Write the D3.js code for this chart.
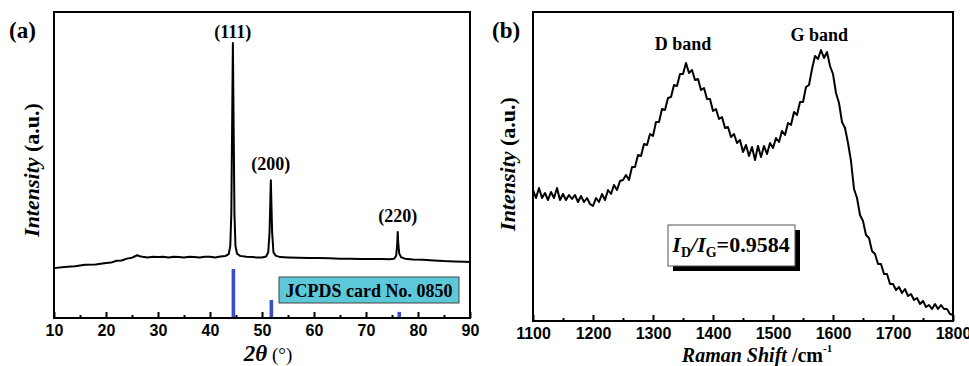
<!DOCTYPE html>
<html><head><meta charset="utf-8">
<script src="https://cdn.jsdelivr.net/npm/d3@7"></script>
<style>
body{margin:0;background:#fff;}
svg{display:block;}
.tk text{font-family:"Liberation Sans",Arial,sans-serif;font-weight:bold;font-size:16px;fill:#000;}
.tk path{display:none;}
.tk line{stroke:#000;stroke-width:2px;}
.ser{font-family:"Liberation Serif","Times New Roman",serif;font-weight:bold;fill:#000;}
</style></head>
<body>
<svg id="c" width="969" height="366"></svg>
<script>
// ---------- Panel (a): XRD ----------
const xrdX = [10,12,14,16,18,20,21,22,23,24,25,25.5,26,26.5,27,28,29,30,31,32,33,34,35,36,37,38,39,40,41,42,43,43.6,43.9,44.1,44.25,44.4,44.55,44.7,44.9,45.2,45.8,47,48,49,50,50.8,51.2,51.45,51.6,51.7,51.8,51.95,52.2,52.6,53.5,55,57,59,61,63,65,67,69,71,73,74.5,75.4,75.8,76.0,76.1,76.2,76.4,76.8,77.5,79,81,83,85,87,89,90];
const xrdY = [16.3,16.7,16.9,17.4,17.5,18.0,18.1,18.7,18.8,19.4,19.7,20.1,20.5,20.2,20.0,19.8,20.0,19.9,20.0,19.8,20.0,19.9,19.8,20.0,19.9,19.8,20.0,20.0,19.8,20.1,20.3,20.9,23.5,34,62,89.9,62,34,23.5,21.0,20.3,20.0,19.9,19.8,19.8,20.1,21.5,28,38,45,38,28,21.5,20.4,19.9,19.8,19.7,19.6,19.6,19.5,19.4,19.4,19.3,19.3,19.3,19.2,19.4,20.3,24.0,28.1,24.5,21.0,19.8,19.4,19.1,19.0,18.8,18.6,18.5,18.4,18.3];
const refPos = [44.5, 51.8, 76.4];
const refH = [16, 5.9, 2.0];
const xrdLabels = ["(111)", "(200)", "(220)"];
const xrdLabelPos = [44.4, 51.7, 76.1];
const xrdLabelY = [91.5, 48.5, 31.5];
const xrdTicks = [10,20,30,40,50,60,70,80,90];
const xrdMinor = [15,25,35,45,55,65,75,85];

// ---------- Panel (b): Raman ----------
const ramanX = d3.range(1100, 1801, 5);
const ramanY = [131,123,133,123,128,121,129,123,133,121,127,121,126,122,126,119,125,119,123,117,
115,123,119,127,121,131,127,136,131,140,141,146,141,154,154,166,165,177,176,187,
185,199,199,212,211,223,224,236,235,247,247,258,248,251,241,242,231,233,222,222,
210,212,202,204,193,194,184,187,178,181,169,176,165,174,161,175,164,175,167,178,
173,183,179,190,186,198,196,209,206,219,219,234,236,252,265,262,271,263,269,255,
247,228,218,199,193,178,160,132,123,106,100,86,83,70,67,57,57,47,47,37,
37,31,34,28,32,25,27,21,23,17,20,14,16,12,17,12,16,12,12,7,6];
const ramanTicks = [1100,1200,1300,1400,1500,1600,1700,1800];
const ramanMinor = [1150,1250,1350,1450,1550,1650,1750];
const bandLabels = ["D band", "G band"];
const bandPos = [1350, 1577];
const bandY = [271, 280];

const svg = d3.select("#c");
const SERIF = "'Liberation Serif','Times New Roman',serif";

function panel(o){
  const g = svg.append("g");
  const x = d3.scaleLinear().domain(o.xd).range([o.L, o.R]);
  const y = d3.scaleLinear().domain(o.yd).range([o.B, o.T]);
  const ax = d3.axisBottom(x).tickValues(o.ticks).tickSize(-6).tickPadding(7).tickFormat(d3.format("d"));
  g.append("g").attr("class","tk").attr("transform",`translate(0,${o.B})`).call(ax);
  const mx = d3.axisBottom(x).tickValues(o.minor).tickSize(-3).tickFormat("");
  g.append("g").attr("class","tk").attr("transform",`translate(0,${o.B})`).call(mx);
  return {g,x,y};
}
function stxt(g){ return g.append("text").attr("class","ser").attr("font-family",SERIF).attr("font-weight","bold"); }

// Panel a
const A = panel({xd:[10,90], yd:[0,100], L:54, R:470, T:12, B:318, ticks:xrdTicks, minor:xrdMinor});
A.g.selectAll("rect.ref").data(refPos).join("rect")
  .attr("x", d=>A.x(d)-1.8).attr("width",3.6)
  .attr("y",(d,i)=>A.y(refH[i])).attr("height",(d,i)=>A.y(0)-A.y(refH[i]))
  .attr("fill","#3a4fc0");
A.g.append("path").datum(d3.zip(xrdX,xrdY))
  .attr("d", d3.line().x(d=>A.x(d[0])).y(d=>A.y(d[1])))
  .attr("fill","none").attr("stroke","#000").attr("stroke-width",2).attr("stroke-linejoin","round");
A.g.selectAll("text.pk").data(xrdLabels).join("text").attr("class","ser").attr("font-family",SERIF)
  .attr("x",(d,i)=>A.x(xrdLabelPos[i])).attr("y",(d,i)=>A.y(xrdLabelY[i]))
  .attr("text-anchor","middle").attr("font-size",18).text(d=>d);
A.g.append("rect").attr("x",279).attr("y",277).attr("width",180).attr("height",26)
  .attr("fill","#5cc8d8").attr("stroke","#444").attr("stroke-width",1);
stxt(A.g).attr("x",369).attr("y",296.5).attr("text-anchor","middle")
  .attr("font-size",18).text("JCPDS card No. 0850");
A.g.append("rect").attr("x",54).attr("y",12).attr("width",416).attr("height",306)
  .attr("fill","none").attr("stroke","#000").attr("stroke-width",2);
stxt(A.g).attr("x",9).attr("y",38).attr("font-size",23).text("(a)");
const ya = stxt(A.g).attr("transform","translate(39,170) rotate(-90)")
  .attr("text-anchor","middle").attr("font-size",22);
ya.append("tspan").attr("font-style","italic").text("Intensity");
ya.append("tspan").text(" (a.u.)");
const xa = stxt(A.g).attr("x",268).attr("y",361).attr("text-anchor","middle");
xa.append("tspan").attr("font-style","italic").attr("font-size",23).text("2θ");
xa.append("tspan").attr("font-weight","normal").attr("font-size",19).text(" (°)");

// Panel b
const B = panel({xd:[1100,1800], yd:[0,309], L:533, R:953, T:12, B:321, ticks:ramanTicks, minor:ramanMinor});
B.g.append("path").datum(d3.zip(ramanX,ramanY))
  .attr("d", d3.line().x(d=>B.x(d[0])).y(d=>B.y(d[1])))
  .attr("fill","none").attr("stroke","#000").attr("stroke-width",2).attr("stroke-linejoin","round");
B.g.selectAll("text.bd").data(bandLabels).join("text").attr("class","ser").attr("font-family",SERIF)
  .attr("x",(d,i)=>B.x(bandPos[i])).attr("y",(d,i)=>B.y(bandY[i]))
  .attr("text-anchor","middle").attr("font-size",18).text(d=>d);
B.g.append("rect").attr("x",673).attr("y",230).attr("width",127).attr("height",41).attr("fill","#000");
B.g.append("rect").attr("x",668).attr("y",225).attr("width",127).attr("height",41)
  .attr("fill","#fff").attr("stroke","#555").attr("stroke-width",1);
const rt = stxt(B.g).attr("x",731).attr("y",252).attr("text-anchor","middle").attr("font-size",22);
rt.append("tspan").attr("font-style","italic").text("I");
rt.append("tspan").attr("font-size",14).attr("dy",5).text("D");
rt.append("tspan").attr("dy",-5).attr("font-style","italic").text("/I");
rt.append("tspan").attr("font-size",14).attr("dy",5).text("G");
rt.append("tspan").attr("dy",-5).text("=0.9584");
B.g.append("rect").attr("x",533).attr("y",12).attr("width",420).attr("height",309)
  .attr("fill","none").attr("stroke","#000").attr("stroke-width",2);
stxt(B.g).attr("x",492).attr("y",38).attr("font-size",23).text("(b)");
const yb = stxt(B.g).attr("transform","translate(515,164) rotate(-90)")
  .attr("text-anchor","middle").attr("font-size",22);
yb.append("tspan").attr("font-style","italic").text("Intensity");
yb.append("tspan").text(" (a.u.)");
const xb = stxt(B.g).attr("x",757).attr("y",362).attr("text-anchor","middle").attr("font-size",20);
xb.append("tspan").attr("font-style","italic").text("Raman Shift");
xb.append("tspan").text(" /cm");
xb.append("tspan").attr("font-size",11).attr("dy",-10).text("-1");
</script>
</body></html>
